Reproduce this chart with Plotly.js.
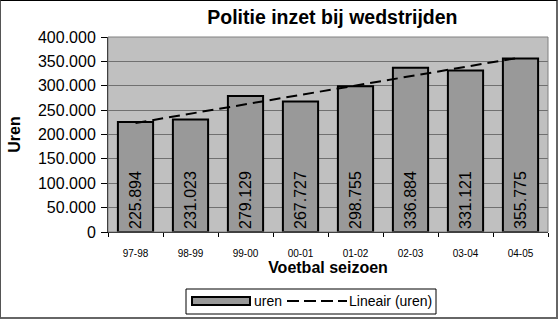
<!DOCTYPE html>
<html>
<head>
<meta charset="utf-8">
<script src="https://cdn.plot.ly/plotly-3.0.1.min.js"></script>
<style>
  html, body { margin: 0; padding: 0; background: #fff; }
  #wrap { position: relative; width: 558px; height: 319px; }
  #chart { width: 558px; height: 319px; }
  #frame { position: absolute; left: 0; top: 0; width: 558px; height: 319px; box-sizing: border-box;
           border-top: 1px solid #000; border-left: 1px solid #555; border-right: 2px solid #666; border-bottom: 2px solid #666; pointer-events: none; }
</style>
</head>
<body>
<div id="wrap"><div id="chart"></div><div id="frame"></div></div>
<script>
const seasons = ['97-98', '98-99', '99-00', '00-01', '01-02', '02-03', '03-04', '04-05'];
const uren = [225894, 231023, 279129, 267727, 298755, 336884, 331121, 355775];
const yTicks = [0, 50000, 100000, 150000, 200000, 250000, 300000, 350000, 400000];
const legendNames = ['uren', 'Lineair (uren)'];

// Linear trendline (least squares), like Excel's "Lineair"
const n = uren.length;
const xs = uren.map((_, i) => i + 1);
const mx = xs.reduce((a, b) => a + b, 0) / n;
const my = uren.reduce((a, b) => a + b, 0) / n;
let sxy = 0, sxx = 0;
for (let i = 0; i < n; i++) { sxy += (xs[i] - mx) * (uren[i] - my); sxx += (xs[i] - mx) ** 2; }
const slope = sxy / sxx, icpt = my - slope * mx;
const trend = xs.map(x => icpt + slope * x);

const F = 'Arial, "Liberation Sans", sans-serif';

// plot area in pixels
const L = 108, R = 548, T = 37, B = 232;
const px = v => (v - L) / (R - L);
const py = v => (B - v) / (B - T);

const data = [
  {
    type: 'bar', name: legendNames[0], x: seasons, y: uren,
    marker: { color: '#999999', line: { color: '#000', width: 2 } },
    texttemplate: '%{y:,}', textposition: 'inside', insidetextanchor: 'start',
    textangle: -90, textfont: { family: F, size: 16, color: '#000' },
    constraintext: 'none', hoverinfo: 'skip', showlegend: false
  },
  {
    type: 'scatter', mode: 'lines', name: legendNames[1], x: seasons, y: trend,
    line: { color: '#000', width: 2, dash: '11px,6px' }, hoverinfo: 'skip', showlegend: false
  }
];

const layout = {
  width: 558, height: 319,
  margin: { l: L, r: 558 - R, t: T, b: 319 - B },
  paper_bgcolor: '#fff', plot_bgcolor: '#c0c0c0',
  separators: ',.',
  font: { family: F, color: '#000' },
  bargap: 0.36,
  showlegend: false,
  title: {
    text: 'Politie inzet bij wedstrijden',
    font: { family: F, size: 19.5, weight: 'bold', color: '#000' },
    x: 0.51, xref: 'paper', xanchor: 'center', y: 1 - 17 / 319, yref: 'container', yanchor: 'middle'
  },
  xaxis: {
    type: 'category', tickfont: { family: F, size: 10 },
    ticks: 'outside', tickson: 'boundaries', ticklen: 4, tickcolor: '#000',
    ticklabelstandoff: 12,
    showline: true, linecolor: '#000', linewidth: 1,
    showgrid: false, automargin: false,
    title: { text: 'Voetbal seizoen', font: { family: F, size: 16, weight: 'bold' }, standoff: 3 }
  },
  yaxis: {
    range: [0, 400000], tickvals: yTicks, tickformat: ',',
    tickfont: { family: F, size: 16 },
    ticks: 'outside', ticklen: 6, tickcolor: '#000', ticklabelstandoff: 2,
    showline: true, linecolor: '#000', linewidth: 1,
    showgrid: true, gridcolor: '#707070', gridwidth: 1, zeroline: false,
    automargin: false,
    title: { text: 'Uren', font: { family: F, size: 16, weight: 'bold' }, standoff: 13 }
  },
  shapes: [
    { type: 'rect', xref: 'paper', yref: 'paper', x0: 0, x1: 1, y0: 0, y1: 1,
      line: { color: '#808080', width: 1 }, fillcolor: 'rgba(0,0,0,0)', layer: 'above' },
    // legend box
    { type: 'rect', xref: 'paper', yref: 'paper', x0: px(186), x1: px(436), y0: py(289), y1: py(314),
      line: { color: '#000', width: 1 }, fillcolor: '#fff' },
    // bar symbol
    { type: 'rect', xref: 'paper', yref: 'paper', x0: px(192), x1: px(250), y0: py(297), y1: py(305),
      line: { color: '#000', width: 2 }, fillcolor: '#999999' },
    // trendline symbol
    { type: 'line', xref: 'paper', yref: 'paper', x0: px(287), x1: px(347), y0: py(301), y1: py(301),
      line: { color: '#000', width: 2, dash: '12px,5px' } }
  ],
  annotations: [
    { xref: 'paper', yref: 'paper', x: px(252), y: py(301), xanchor: 'left', yanchor: 'middle',
      text: legendNames[0], showarrow: false, font: { family: F, size: 14, color: '#000' } },
    { xref: 'paper', yref: 'paper', x: px(347), y: py(301), xanchor: 'left', yanchor: 'middle',
      text: legendNames[1], showarrow: false, font: { family: F, size: 14, color: '#000' } }
  ]
};

Plotly.newPlot('chart', data, layout, { staticPlot: true, displayModeBar: false });
</script>
</body>
</html>
